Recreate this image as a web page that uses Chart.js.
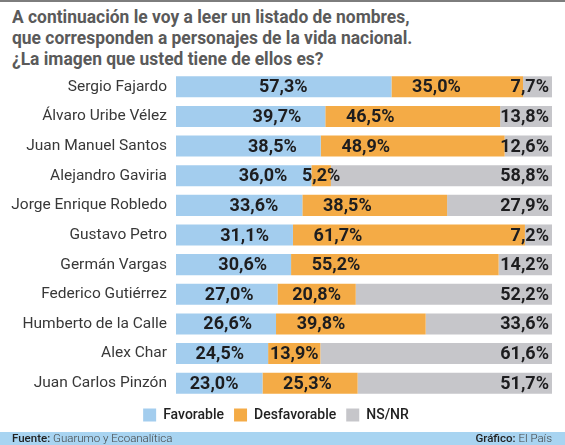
<!DOCTYPE html>
<html>
<head>
<meta charset="utf-8">
<script src="https://cdn.jsdelivr.net/npm/chart.js@4.4.1/dist/chart.umd.min.js"></script>
<style>
  html, body { margin: 0; padding: 0; background: #fff; }
  #wrap { position: relative; width: 565px; height: 445px; overflow: hidden; }
  #topline { position: absolute; left: 0; top: 0; width: 565px; height: 2px; background: #7d7d7d; }
  #title { position: absolute; left: 12px; top: 6px; font-family: "Roboto", sans-serif;
           font-weight: bold; font-size: 19px; line-height: 21px; color: #5a5a5a; white-space: nowrap;
           transform: scaleX(0.917); transform-origin: 0 0; }
  #chartbox { position: absolute; left: 0; top: 0; width: 565px; height: 445px; }
  #footer { position: absolute; left: 0; top: 432px; width: 565px; height: 13px; background: #a8d4f1;
            font-family: "Roboto", sans-serif; font-size: 11.5px; line-height: 13px; color: #333; }
  #footer .l { position: absolute; left: 12px; top: 0; }
  #footer .r { position: absolute; right: 13px; top: 0; }
  #footer b { font-weight: 500; color: #222; }
  #footer span.t { font-weight: 300; color: #444; }
</style>
</head>
<body>
<div id="wrap">
  <div id="topline"></div>
  <div id="title">A continuación le voy a leer un listado de nombres,<br>que corresponden a personajes de la vida nacional.<br>¿La imagen que usted tiene de ellos es?</div>
  <div id="chartbox"><canvas id="c" width="565" height="445"></canvas></div>
  <div id="footer"><div class="l"><b>Fuente:</b> <span class="t">Guarumo y Ecoanalítica</span></div><div class="r"><b>Gráfico:</b> <span class="t">El País</span></div></div>
</div>
<script>
const categories = ["Sergio Fajardo", "Álvaro Uribe Vélez", "Juan Manuel Santos", "Alejandro Gaviria",
  "Jorge Enrique Robledo", "Gustavo Petro", "Germán Vargas", "Federico Gutiérrez",
  "Humberto de la Calle", "Alex Char", "Juan Carlos Pinzón"];
const favorable =    [57.3, 39.7, 38.5, 36.0, 33.6, 31.1, 30.6, 27.0, 26.6, 24.5, 23.0];
const desfavorable = [35.0, 46.5, 48.9, 5.2, 38.5, 61.7, 55.2, 20.8, 39.8, 13.9, 25.3];
const nsnr =         [7.7, 13.8, 12.6, 58.8, 27.9, 7.2, 14.2, 52.2, 33.6, 61.6, 51.7];
const seriesNames = ["Favorable", "Desfavorable", "NS/NR"];
const colors = ["#a3cdee", "#f4ab46", "#c6c6ca"];

const fmt = v => v.toFixed(1).replace('.', ',') + '%';

const labelPlugin = {
  id: 'segLabels',
  afterDatasetsDraw(chart) {
    const ctx = chart.ctx;
    const xs = chart.scales.x;
    ctx.save();
    ctx.font = 'bold 18px Roboto, sans-serif';
    ctx.fillStyle = '#1d1d1f';
    ctx.textBaseline = 'middle';
    chart.data.datasets.forEach((ds, di) => {
      const meta = chart.getDatasetMeta(di);
      meta.data.forEach((bar, i) => {
        const p = bar.getProps(['x', 'y', 'base'], true);
        const start = Math.min(p.x, p.base), end = Math.max(p.x, p.base);
        const txt = fmt(ds.data[i]);
        let x;
        if (di === 0) {
          ctx.textAlign = 'right';
          x = Math.min(end - 24, xs.getPixelForValue(35));
        } else if (di === 1) {
          ctx.textAlign = 'center';
          x = start + Math.min((end - start) / 2, 45);
        } else {
          ctx.textAlign = 'right';
          x = end - 3;
        }
        ctx.fillText(txt, x, p.y + 1);
      });
    });
    ctx.restore();
  }
};

new Chart(document.getElementById('c'), {
  type: 'bar',
  data: {
    labels: categories,
    datasets: [
      { label: seriesNames[0], data: favorable, backgroundColor: colors[0] },
      { label: seriesNames[1], data: desfavorable, backgroundColor: colors[1] },
      { label: seriesNames[2], data: nsnr, backgroundColor: colors[2] }
    ]
  },
  options: {
    indexAxis: 'y',
    responsive: false,
    animation: false,
    devicePixelRatio: 1,
    categoryPercentage: 1,
    barPercentage: 0.71,
    layout: { padding: { left: 0, right: 13, top: 72, bottom: 13 } },
    scales: {
      x: { stacked: true, min: 0, max: 100, display: false },
      y: {
        stacked: true,
        grid: { display: false, drawTicks: false },
        border: { display: false },
        ticks: { color: '#383838', font: { family: 'Roboto, sans-serif', size: 15.5 }, padding: 9 },
        afterFit(scale) { scale.width = 176; }
      }
    },
    plugins: {
      legend: {
        position: 'bottom',
        labels: {
          boxWidth: 13, boxHeight: 13, padding: 10, color: '#222',
          font: { family: 'Roboto, sans-serif', size: 14, weight: '500' }
        }
      },
      tooltip: { enabled: false },
      title: { display: false }
    }
  }
  ,plugins: [labelPlugin]
});
</script>
</body>
</html>
